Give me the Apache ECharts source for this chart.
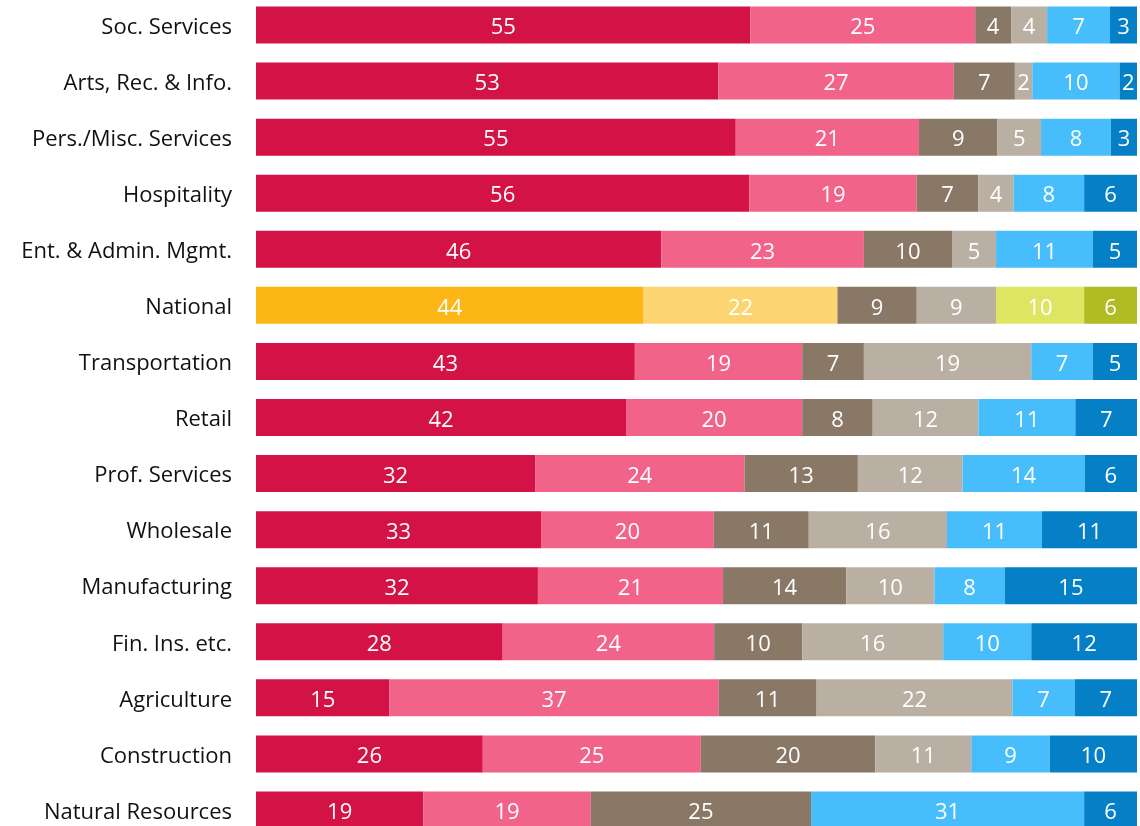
<!DOCTYPE html>
<html>
<head>
<meta charset="utf-8">
<script src="https://cdn.jsdelivr.net/npm/echarts@6/dist/echarts.min.js"></script>
<style>
  html, body { margin: 0; padding: 0; background: #fff; overflow: hidden; }
  #chart { width: 1140px; height: 841px; margin-top: -3px; }
</style>
</head>
<body>
<div id="chart"></div>
<script>
const categories = [
  "Soc. Services", "Arts, Rec. & Info.", "Pers./Misc. Services", "Hospitality",
  "Ent. & Admin. Mgmt.", "National", "Transportation", "Retail", "Prof. Services",
  "Wholesale", "Manufacturing", "Fin. Ins. etc.", "Agriculture", "Construction",
  "Natural Resources"
];

// six segments per row
const seg1 = [55, 53, 55, 56, 46, 44, 43, 42, 32, 33, 32, 28, 15, 26, 19];
const seg2 = [25, 27, 21, 19, 23, 22, 19, 20, 24, 20, 21, 24, 37, 25, 19];
const seg3 = [4, 7, 9, 7, 10, 9, 7, 8, 13, 11, 14, 10, 11, 20, 25];
const seg4 = [4, 2, 5, 4, 5, 9, 19, 12, 12, 16, 10, 16, 22, 11, 0];
const seg5 = [7, 10, 8, 8, 11, 10, 7, 11, 14, 11, 8, 10, 7, 9, 31];
const seg6 = [3, 2, 3, 6, 5, 6, 5, 7, 6, 11, 15, 12, 7, 10, 6];

const segments = [seg1, seg2, seg3, seg4, seg5, seg6];
const colors = ["#D31245", "#F2638A", "#8A7866", "#B9AFA3", "#47BEFB", "#0580C7"];
const nationalColors = ["#FCB717", "#FDD472", "#8A7866", "#B9AFA3", "#DDE563", "#B1BB22"];
const nationalIndex = categories.indexOf("National");

// each row fills the full width (labels are rounded shares)
const rowTotals = categories.map((c, i) =>
  segments.reduce((sum, s) => sum + s[i], 0)
);

const series = segments.map((seg, k) => ({
  type: "bar",
  stack: "total",
  barWidth: 37,
  data: seg.map((v, i) => ({
    value: (v / rowTotals[i]) * 100,
    itemStyle: i === nationalIndex ? { color: nationalColors[k] } : undefined,
  })),
  itemStyle: { color: colors[k] },
  label: {
    show: true,
    position: "inside",
    color: "#fff",
    fontSize: 22,
    fontFamily: "Open Sans",
    offset: [0, 3],
    formatter: (p) => (seg[p.dataIndex] ? String(seg[p.dataIndex]) : ""),
  },
  emphasis: { disabled: true },
}));

const chart = echarts.init(document.getElementById("chart"));
chart.setOption({
  animation: false,
  grid: { left: 256, right: 3, top: 0, bottom: 0 },
  xAxis: { type: "value", min: 0, max: 100, show: false },
  yAxis: {
    type: "category",
    data: categories,
    inverse: true,
    axisLine: { show: false },
    axisTick: { show: false },
    axisLabel: {
      margin: 24,
      color: "#111",
      fontSize: 22,
      fontFamily: "Open Sans",
      formatter: (v) => "{a|" + v + "}",
      rich: {
        a: {
          color: "#111",
          fontSize: 22,
          fontFamily: "Open Sans",
          padding: [5, 0, 0, 0],
        },
      },
    },
  },
  series: series,
});
</script>
</body>
</html>
